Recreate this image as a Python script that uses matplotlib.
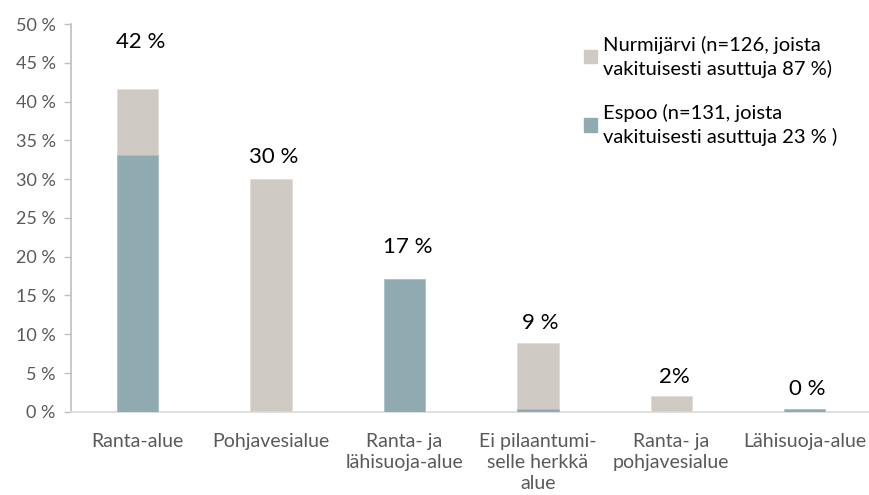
import matplotlib
matplotlib.use("Agg")
import matplotlib.pyplot as plt
from matplotlib.patches import Rectangle

plt.rcParams["font.family"] = ["Lato", "DejaVu Sans"]

CATEGORIES = [
    "Ranta-alue",
    "Pohjavesialue",
    "Ranta- ja\nlähisuoja-alue",
    "Ei pilaantumi-\nselle herkkä\nalue",
    "Ranta- ja\npohjavesialue",
    "Lähisuoja-alue",
]
NURMIJARVI = [41.6, 30.0, 0.0, 8.9, 2.0, 0.0]
ESPOO = [33.1, 0.0, 17.1, 0.4, 0.0, 0.4]
VALUE_LABELS = ["42 %", "30 %", "17 %", "9 %", "2%", "0 %"]
LEGEND_LABELS = [
    "Nurmijärvi (n=126, joista\nvakituisesti asuttuja 87 %)",
    "Espoo (n=131, joista\nvakituisesti asuttuja 23 % )",
]
YTICKS = [0, 5, 10, 15, 20, 25, 30, 35, 40, 45, 50]

C_NURMI = "#cfcac3"
C_ESPOO = "#8fabb1"
GREY = "#595959"

# label offset above bar top, in points
LABEL_OFFSET = [34, 16, 23, 14.5, 14, 14]

fig = plt.figure(figsize=(8.69, 4.95), dpi=100)
ax = fig.add_axes([0.0817, 0.168, 0.921, 0.7835])

xs = range(len(CATEGORIES))
w = 0.31
ax.bar(xs, NURMIJARVI, width=w, color=C_NURMI, edgecolor="#e0dcd6", lw=0.6, zorder=2)
ax.bar(xs, ESPOO, width=w, color=C_ESPOO, edgecolor="#a9bfc4", lw=0.6, zorder=3)

for x, n, e, lab, off in zip(xs, NURMIJARVI, ESPOO, VALUE_LABELS, LABEL_OFFSET):
    ax.annotate(lab, (x, max(n, e)), xytext=(2, off), textcoords="offset points",
                ha="center", va="center", fontsize=16, color="black")

ax.set_xlim(-0.5, 5.5)
ax.set_ylim(0, 50)
ax.set_yticks(YTICKS)
ax.set_yticklabels([f"{t} %" for t in YTICKS])
ax.set_xticks(list(xs))
ax.set_xticklabels(CATEGORIES, linespacing=1.3)
ax.tick_params(axis="y", length=5, width=1, color="#bfbfbf", labelcolor=GREY,
               labelsize=13, pad=6)
ax.tick_params(axis="x", length=0, labelcolor=GREY, labelsize=14, pad=15)
for s in ("top", "right"):
    ax.spines[s].set_visible(False)
ax.spines["left"].set_color("#bfbfbf")
ax.spines["bottom"].set_color("#d9d9d9")
ax.spines["left"].set_linewidth(1.2)
ax.spines["bottom"].set_linewidth(1.2)

handles = [Rectangle((0, 0), 1, 1, color=C_NURMI), Rectangle((0, 0), 1, 1, color=C_ESPOO)]
leg = ax.legend(handles, LEGEND_LABELS, loc="upper left", bbox_to_anchor=(0.651, 0.965),
                bbox_transform=fig.transFigure, frameon=False, fontsize=14.5,
                labelspacing=1.3, handlelength=0.65, handleheight=0.65,
                handletextpad=0.3, labelcolor="black")
for t in leg.get_texts():
    t.set_linespacing(1.4)

fig.savefig("out.png", dpi=100)
